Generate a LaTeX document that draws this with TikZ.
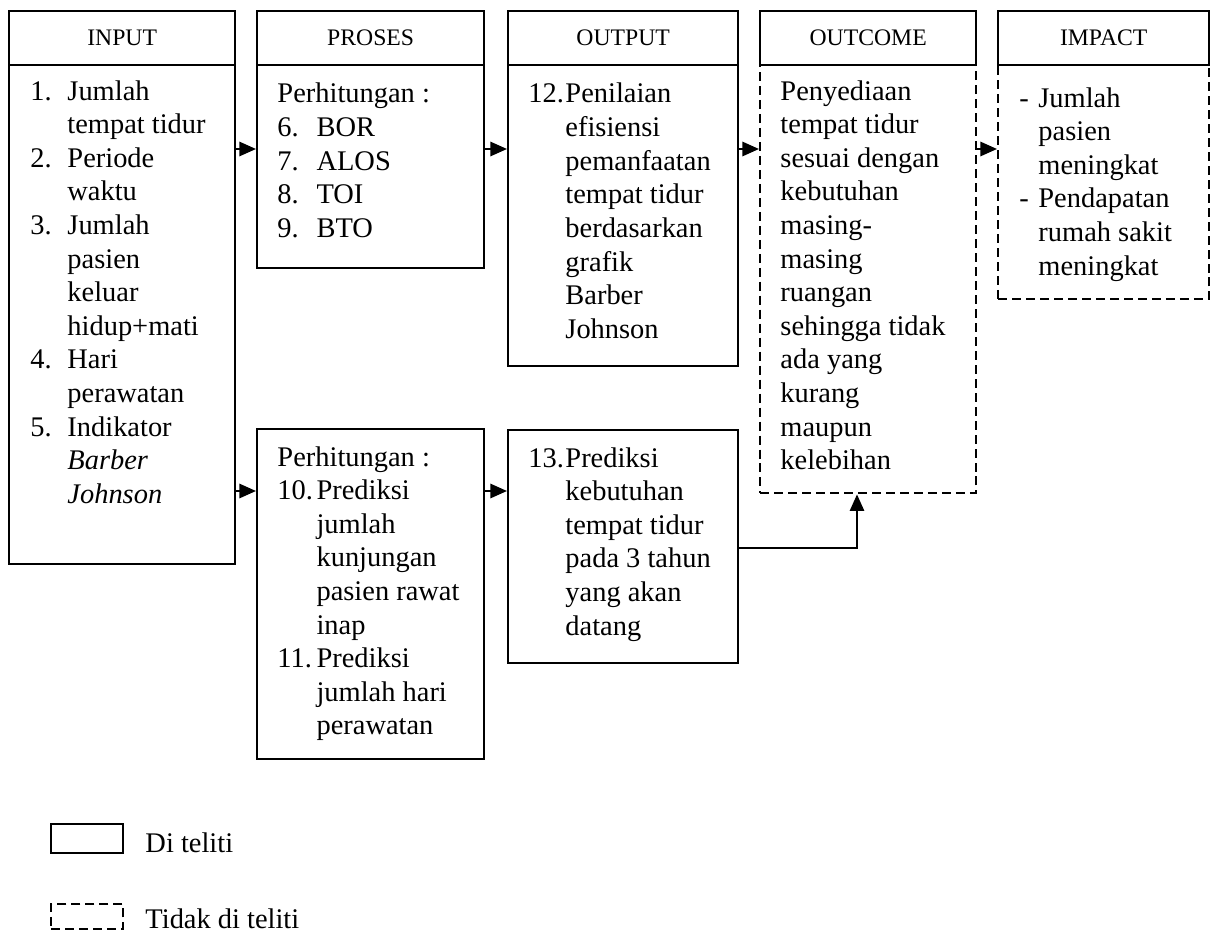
\documentclass[tikz,border=0pt]{standalone}
\usepackage{fontspec}
\setmainfont{Liberation Serif}
\usetikzlibrary{arrows.meta}
\newcommand{\itm}[3]{\par\hangindent=#1\hangafter=1\noindent\makebox[#1][l]{#2}#3\par}
\newcommand{\pl}[1]{\par\noindent #1\par}
\newcommand{\blk}[1]{\begin{minipage}[t]{110pt}#1\end{minipage}}
\begin{document}
\begin{tikzpicture}[x=0.422pt, y=-0.422pt,
  sz/.style 2 args={minimum width={#1*0.422pt}, minimum height={#2*0.422pt}},
  box/.style={draw, line width=1pt, inner sep=0pt, anchor=north west},
  dbox/.style={box, dash pattern=on 3.8pt off 2.1pt},
  head/.style={box, font=\fontsize{10}{12}\selectfont},
  txt/.style={inner sep=0pt, anchor=base west, font=\fontsize{12}{14.18}\selectfont},
  arr/.style={line width=0.9pt, -{Triangle[length=7pt,width=6pt]}}]
\useasboundingbox (0,0) rectangle (1219,931);

% headers
\node[head, sz={226}{54}] (inh) at (8,10) {INPUT};
\node[head, sz={227}{54}] (prh) at (256,10) {PROSES};
\node[head, sz={230}{54}] (outh) at (507,10) {OUTPUT};
\node[head, sz={216}{54}] (och) at (759,10) {OUTCOME};
\node[head, sz={211}{54}] (imh) at (997,10) {IMPACT};

% bodies
\node[box, sz={226}{499}] (inb) at (8,64) {};
\node[box, sz={227}{203}] (prb) at (256,64) {};
\node[box, sz={230}{301}] (outb) at (507,64) {};
\node[dbox, sz={216}{428}] (ocb) at (759,64) {};
\node[dbox, sz={211}{234}] (imb) at (997,64) {};
\node[box, sz={227}{330}] (pr2) at (256,428) {};
\node[box, sz={230}{233}] (out2) at (507,429) {};

% texts
\node[txt] (intx) at (30,100) {\blk{%
\itm{15.6pt}{1.}{Jumlah\\tempat tidur}%
\itm{15.6pt}{2.}{Periode\\waktu}%
\itm{15.6pt}{3.}{Jumlah\\pasien\\keluar\\hidup+mati}%
\itm{15.6pt}{4.}{Hari\\perawatan}%
\itm{15.6pt}{5.}{Indikator\\\textit{Barber}\\\textit{Johnson}}}};

\node[txt] (prtx) at (277,103) {\blk{%
\pl{Perhitungan :}%
\itm{16.5pt}{6.}{BOR}%
\itm{16.5pt}{7.}{ALOS}%
\itm{16.5pt}{8.}{TOI}%
\itm{16.5pt}{9.}{BTO}}};

\node[txt] (outtx) at (528,103) {\blk{%
\itm{15.6pt}{12.}{Penilaian\\efisiensi\\pemanfaatan\\tempat tidur\\berdasarkan\\grafik\\Barber\\Johnson}}};

\node[txt] (octx) at (780,100) {\blk{%
\pl{Penyediaan\\tempat tidur\\sesuai dengan\\kebutuhan\\masing-\\masing\\ruangan\\sehingga tidak\\ada yang\\kurang\\maupun\\kelebihan}}};

\node[txt] (imtx) at (1019,107) {\blk{%
\itm{8pt}{-}{Jumlah\\pasien\\meningkat}%
\itm{8pt}{-}{Pendapatan\\rumah sakit\\meningkat}}};

\node[txt] (pr2tx) at (277,466) {\blk{%
\pl{Perhitungan :}%
\itm{16.5pt}{10.}{Prediksi\\jumlah\\kunjungan\\pasien rawat\\inap}%
\itm{16.5pt}{11.}{Prediksi\\jumlah hari\\perawatan}}};

\node[txt] (out2tx) at (528,467) {\blk{%
\itm{15.6pt}{13.}{Prediksi\\kebutuhan\\tempat tidur\\pada 3 tahun\\yang akan\\datang}}};

% connectors
\coordinate (r1) at (0,149);
\coordinate (r2) at (0,491);
\coordinate (r3) at (857,548);
\draw[arr] (inb.east |- r1) -- (prb.west |- r1);
\draw[arr] (prb.east |- r1) -- (outb.west |- r1);
\draw[arr] (outb.east |- r1) -- (ocb.west |- r1);
\draw[arr] (ocb.east |- r1) -- (imb.west |- r1);
\draw[arr] (inb.east |- r2) -- (pr2.west |- r2);
\draw[arr] (pr2.east |- r2) -- (out2.west |- r2);
\draw[arr] (out2.east |- r3) -| (ocb.south -| r3);

% legend
\node[box, sz={72}{29}] (lg1) at (50,823) {};
\node[txt] (lt1) at (145,852) {Di teliti};
\node[dbox, sz={72}{25}] (lg2) at (50,903) {};
\node[txt] (lt2) at (145,928) {Tidak di teliti};
\end{tikzpicture}
\end{document}
